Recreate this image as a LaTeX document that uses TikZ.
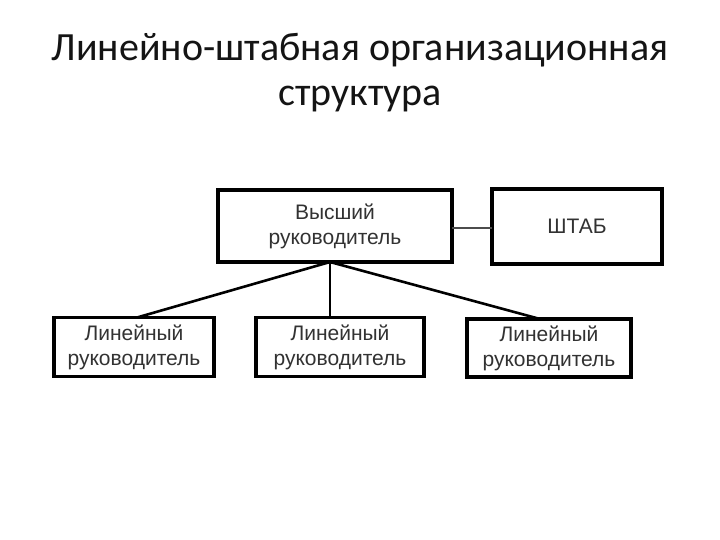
\documentclass[tikz,border=0pt]{standalone}
\usepackage{fontspec}
\setmainfont{Liberation Sans}
\newfontfamily\titlefont{Carlito}
\definecolor{boxtext}{RGB}{50,50,50}
\definecolor{titletext}{RGB}{20,20,20}
\begin{document}
\begin{tikzpicture}[x=1pt,y=-1pt,
  orgbox/.style={draw=black, line width=3.2pt, fill=white, inner sep=0pt, outer sep=0pt,
    align=center, text=boxtext, font=\fontsize{21}{25}\selectfont},
  link/.style={draw=black, line width=2.6pt},
  stablink/.style={draw=black!70, line width=2.2pt},
  titlestyle/.style={text=titletext, font=\titlefont\fontsize{40}{45}\selectfont, align=center}]
\useasboundingbox (0,0) rectangle (720,540);
\node[titlestyle] (title) at (360,73) {Линейно-штабная организационная\\структура};
\node[orgbox, minimum width=234pt, minimum height=72pt] (top) at (335,226) {Высший\\руководитель};
\node[orgbox, minimum width=170pt, minimum height=75pt] (stab) at (577,226.5) {ШТАБ};
\node[orgbox, minimum width=160pt, minimum height=59pt] (b1) at (134,347) {Линейный\\руководитель};
\node[orgbox, minimum width=168pt, minimum height=59pt] (b2) at (340,347) {Линейный\\руководитель};
\node[orgbox, minimum width=164pt, minimum height=58pt] (b3) at (549,348) {Линейный\\руководитель};
\coordinate (hub) at ([xshift=-5pt]top.south);
\draw[stablink] ([yshift=-2pt]top.east) -- ([yshift=-2pt]top.east -| stab.west);
\draw[link] (hub) -- ([xshift=3pt]b1.north);
\draw[link] (hub) -- (hub |- b2.north);
\draw[link] (hub) -- ([xshift=-9pt]b3.north);
\end{tikzpicture}
\end{document}
